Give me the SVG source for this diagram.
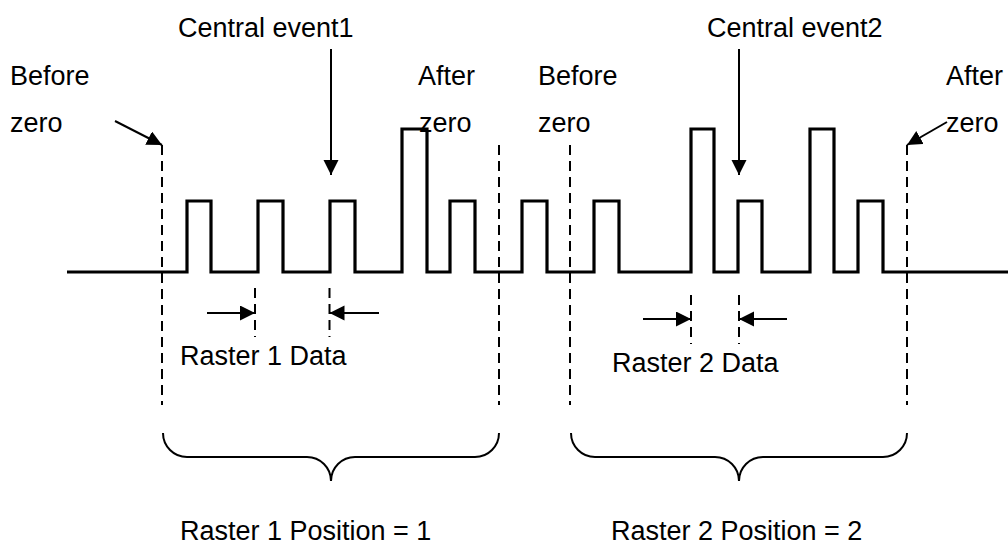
<svg xmlns="http://www.w3.org/2000/svg" width="1008" height="544" viewBox="0 0 1008 544">
<defs>
<marker id="ah" markerUnits="userSpaceOnUse" markerWidth="16" markerHeight="16" refX="15" refY="7.5" orient="auto">
<path d="M0,0 L15,7.5 L0,15 Z" fill="#000"/>
</marker>
<style>
text{font-family:"Liberation Sans",Arial,sans-serif;font-size:27px;fill:#000}
.wave{fill:none;stroke:#000;stroke-width:3.2;stroke-linejoin:miter}
.dash{fill:none;stroke:#000;stroke-width:2;stroke-dasharray:10 6}
.arr{fill:none;stroke:#000;stroke-width:2;marker-end:url(#ah)}
.brace{fill:none;stroke:#000;stroke-width:2}
</style>
</defs>
<rect width="1008" height="544" fill="#fff"/>
<g id="waveform">
<path class="wave" d="M67,272 H187 V201 H211 V272 H258 V201 H283 V272 H330 V201 H355 V272 H402 V129 H427 V272 H450 V201 H475 V272 H522 V201 H547 V272 H594 V201 H619 V272 H691 V129 H714 V272 H738 V201 H762 V272 H810 V129 H834 V272 H858 V201 H883 V272 H1008"/>
</g>
<g id="markers">
<line class="dash" x1="162" y1="145" x2="162" y2="405"/>
<line class="dash" x1="499" y1="145" x2="499" y2="405"/>
<line class="dash" x1="570" y1="145" x2="570" y2="405"/>
<line class="dash" x1="907" y1="145" x2="907" y2="405"/>
<line class="dash" x1="255" y1="288" x2="255" y2="337"/>
<line class="dash" x1="329.5" y1="288" x2="329.5" y2="337"/>
<line class="dash" x1="691" y1="295" x2="691" y2="344"/>
<line class="dash" x1="739" y1="295" x2="739" y2="344"/>
</g>
<g id="connectors">
<line class="arr" x1="115" y1="121" x2="162" y2="145"/>
<line class="arr" x1="947" y1="122" x2="907" y2="145"/>
<line class="arr" x1="331" y1="49" x2="331" y2="175"/>
<line class="arr" x1="739" y1="49" x2="739" y2="175"/>
<line class="arr" x1="207" y1="313" x2="255" y2="313"/>
<line class="arr" x1="379" y1="313" x2="329.5" y2="313"/>
<line class="arr" x1="643" y1="319" x2="691" y2="319"/>
<line class="arr" x1="787" y1="319" x2="739" y2="319"/>
</g>
<g id="brace1">
<path class="brace" d="M163,433 A24,24 0 0 0 187,457 L307,457 A24,24 0 0 1 331,481 A24,24 0 0 1 355,457 L475,457 A24,24 0 0 0 499,433"/>
</g>
<g id="brace2">
<path class="brace" d="M571,433 A24,24 0 0 0 595,457 L715,457 A24,24 0 0 1 739,481 A24,24 0 0 1 763,457 L883,457 A24,24 0 0 0 907,433"/>
</g>
<g id="labels">
<text x="10" y="85">Before</text>
<text x="10" y="132">zero</text>
<text x="178" y="37">Central event1</text>
<text x="418" y="85">After</text>
<text x="419" y="132">zero</text>
<text x="538" y="85">Before</text>
<text x="538" y="132">zero</text>
<text x="707" y="37">Central event2</text>
<text x="946" y="85">After</text>
<text x="946" y="132">zero</text>
<text x="180" y="365">Raster 1 Data</text>
<text x="612" y="372">Raster 2 Data</text>
<text x="180" y="540">Raster 1 Position = 1</text>
<text x="611" y="540">Raster 2 Position = 2</text>
</g>
</svg>
